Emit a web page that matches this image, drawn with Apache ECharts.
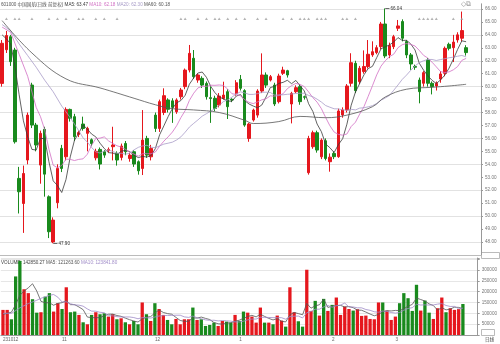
<!DOCTYPE html>
<html>
<head>
<meta charset="utf-8">
<script src="https://cdn.jsdelivr.net/npm/echarts/dist/echarts.min.js"></script>
<style>
  html, body { margin: 0; padding: 0; background: #fff; }
  #chart { width: 500px; height: 344px; }
</style>
</head>
<body>
<div id="chart"></div>
<script>
// Daily OHLC, volume and overlays
const stockTitle = '601000 中国国航(日线 前复权)';
const tickLabels = {0: '231012', 14: '11', 36: '12', 56: '1', 78: '2', 93: '3'};
const padSlots = 3; // empty slots kept on the right edge

const opens = [
  60.25, 62.85, 63.86, 62.83, 52.91, 50.97, 54.33, 60.12, 57.03, 53.94,
  56.70, 51.49, 48.00, 51.03, 55.23, 54.58, 58.24, 57.68, 56.30, 57.11,
  56.39, 55.90, 54.50, 55.15, 54.97, 55.05, 55.36, 54.84, 54.53, 55.61,
  54.45, 54.97, 54.20, 53.68, 56.00, 54.58, 57.80, 56.77, 58.00, 58.97,
  58.90, 58.06, 59.22, 60.00, 61.28, 62.19, 60.51, 60.64, 60.25, 59.15,
  59.10, 58.58, 59.09, 59.61, 59.02, 59.48, 60.56, 59.69, 56.00, 57.42,
  57.80, 59.66, 60.90, 60.51, 60.12, 58.84, 61.03, 61.23, 58.66, 59.61,
  60.00, 59.22, 53.35, 55.36, 56.44, 54.58, 55.82, 54.20, 54.84, 54.59,
  57.81, 58.20, 60.26, 61.80, 60.39, 61.16, 61.55, 62.45, 62.63, 63.09,
  64.84, 62.45, 63.09, 64.51, 65.03, 63.48, 62.45, 61.55, 60.51, 60.26,
  62.06, 60.26, 60.05, 60.59, 61.03, 63.27, 63.01, 63.61, 63.74, 63.01
];
const closes = [
  63.35, 63.95, 61.93, 55.74, 51.88, 53.29, 57.80, 57.03, 55.49, 56.39,
  53.24, 48.79, 49.69, 53.68, 53.68, 58.24, 57.55, 56.13, 56.45, 56.77,
  56.77, 55.60, 55.00, 54.02, 54.71, 55.15, 55.49, 54.33, 55.41, 54.97,
  54.71, 54.02, 53.50, 55.87, 54.71, 55.23, 56.77, 58.84, 59.30, 58.25,
  58.40, 58.97, 59.74, 61.28, 62.57, 60.77, 60.90, 60.12, 59.22, 59.08,
  58.32, 59.27, 59.35, 58.45, 58.97, 60.30, 59.87, 57.03, 57.11, 58.19,
  59.66, 60.90, 60.12, 60.77, 58.66, 60.82, 61.28, 60.90, 59.48, 59.92,
  58.84, 59.18, 56.00, 56.44, 55.10, 55.87, 54.45, 54.55, 54.59, 58.12,
  58.20, 60.05, 61.85, 59.69, 61.42, 61.55, 62.50, 62.70, 63.01, 64.84,
  62.37, 63.17, 63.86, 64.69, 63.74, 62.45, 61.75, 61.50, 59.61, 61.08,
  60.26, 60.00, 60.26, 60.98, 62.96, 62.96, 63.44, 64.00, 64.33, 62.63
];
const highs = [
  63.60, 64.30, 64.00, 63.00, 53.80, 53.90, 58.00, 60.30, 57.20, 56.60,
  56.90, 51.60, 49.90, 54.00, 55.50, 58.40, 58.30, 57.90, 56.60, 57.68,
  56.90, 56.00, 55.20, 55.30, 55.10, 55.30, 56.90, 55.00, 55.60, 55.80,
  54.90, 55.10, 54.30, 58.19, 56.20, 55.50, 58.00, 59.00, 59.87, 59.10,
  59.10, 59.10, 59.90, 61.40, 63.22, 62.83, 61.00, 60.80, 60.40, 60.00,
  59.30, 59.50, 60.38, 59.80, 59.10, 60.50, 60.90, 59.80, 57.20, 58.30,
  59.80, 62.57, 61.10, 60.90, 60.30, 61.00, 61.54, 61.30, 59.60, 60.10,
  60.20, 59.30, 56.20, 56.60, 56.60, 56.00, 56.00, 54.84, 55.00, 58.30,
  58.40, 60.20, 62.58, 62.00, 61.60, 62.80, 63.60, 63.50, 63.20, 65.00,
  66.04, 63.40, 64.00, 65.15, 65.20, 63.60, 62.60, 61.70, 60.70, 61.20,
  62.20, 60.40, 60.40, 61.20, 63.10, 63.40, 64.00, 64.20, 65.80, 63.20
];
const lows = [
  60.00, 62.60, 61.60, 55.60, 50.20, 48.70, 54.00, 56.80, 55.00, 52.50,
  51.50, 48.30, 47.90, 50.60, 53.40, 54.30, 57.30, 55.80, 56.10, 56.60,
  55.00, 55.40, 54.30, 53.60, 54.50, 54.90, 54.30, 53.90, 54.30, 54.70,
  54.20, 53.80, 53.20, 53.17, 54.50, 54.30, 56.50, 56.50, 57.80, 58.00,
  57.20, 57.90, 59.00, 59.80, 61.10, 60.60, 60.30, 59.90, 59.00, 57.20,
  58.10, 58.40, 59.00, 57.50, 58.80, 59.30, 59.70, 56.90, 55.74, 57.30,
  57.60, 59.50, 59.90, 60.40, 58.50, 58.70, 60.90, 60.70, 57.16, 59.50,
  58.60, 59.00, 53.20, 55.20, 54.90, 54.40, 54.30, 53.43, 54.40, 54.50,
  57.60, 58.00, 60.00, 59.50, 60.20, 61.00, 61.40, 62.30, 62.50, 62.90,
  62.20, 62.20, 62.90, 64.30, 63.50, 62.20, 61.30, 61.30, 58.71, 60.00,
  60.00, 59.40, 59.70, 60.30, 60.80, 62.80, 61.90, 63.40, 63.50, 62.40
];
const volumes = [
  115700, 115700, 72500, 270000, 342000, 211000, 193000, 165000, 103000, 105000,
  177000, 193000, 108000, 146600, 120000, 220000, 105000, 108000, 92600, 58600,
  49400, 92600, 105000, 95700, 100000, 84900, 95700, 72500, 77000, 58600,
  49400, 64800, 49400, 150000, 95700, 64800, 146600, 120000, 92600, 69400,
  49400, 74000, 49400, 72500, 72500, 126500, 69400, 72500, 41700, 46300,
  57100, 41700, 64800, 61700, 57100, 92600, 64800, 108000, 103000, 84900,
  57100, 126500, 57100, 57100, 49400, 89500, 66300, 38600, 220000, 105000,
  63300, 38600, 300900, 111000, 157400, 89500, 166600, 111000, 138900, 172800,
  92600, 131000, 120000, 112600, 118800, 88000, 89500, 74000, 72500, 150000,
  150000, 112600, 69400, 84900, 146600, 193000, 169700, 111000, 231500, 112600,
  158900, 103000, 74000, 123400, 172800, 105000, 123400, 115700, 119367.73, 142850.27
];

// Moving-average values at the left edge, where the window reaches before the first bar
const ma5Lead = {0: 64.0, 1: 63.7, 2: 63.3, 3: 61.6};
const ma10Lead = {0: 64.6, 2: 64.2, 4: 62.5, 6: 60.8, 8: 58.4};
const ma20Lead = {0: 64.8, 2: 64.3, 4: 63.3, 6: 62.4, 8: 61.5, 10: 60.5, 12: 59.6, 14: 58.5, 16: 57.6, 18: 56.6};
const ma60Points = {0: 65.1, 7: 62.6, 15: 60.6, 23: 59.9, 31: 59.1, 36: 58.6, 40: 58.3, 45: 58.2, 51: 58.0,
  57: 57.4, 59: 57.15, 65: 57.3, 70: 57.7, 76: 57.6, 81: 57.8, 87: 58.45, 90: 59.2, 95: 59.8, 101: 59.95,
  105: 60.05, 109: 60.18};
const vma5Lead = {0: 95000, 1: 100000, 2: 105000, 3: 140000};
const vma10Lead = {0: 100000, 2: 100000, 4: 125000, 6: 145000, 8: 160000};

// Event flags along the top edge
const eventBars = [1, 3, 4, 7, 11, 13, 15, 18, 19, 22, 24, 27, 42, 43, 46, 48, 50, 51, 53, 55, 57, 60, 62,
  66, 68, 70, 71, 72, 74, 75, 76, 80, 81, 83, 98, 99, 100, 101, 102, 106, 108];
const eventLevel = 65.25;

const RED = '#e5171d';
const GREEN = '#198a1d';
const FS = 4.6;
const FONT = '"Liberation Sans", "Noto Sans CJK SC", sans-serif';

const n = closes.length;
const slots = [];
for (let i = 0; i < n + padSlots; i++) slots.push(String(i));

const ohlc = closes.map((c, i) => [opens[i], c, lows[i], highs[i]]);

function movingAverage(vals, len, lead) {
  return vals.map((_, i) => {
    if (i < len - 1) return lead[i] !== undefined ? lead[i] : null;
    let s = 0;
    for (let k = i - len + 1; k <= i; k++) s += vals[k];
    return +(s / len).toFixed(2);
  });
}
function sparse(points) {
  return closes.map((_, i) => points[i] !== undefined ? points[i] : null);
}

const ma5 = movingAverage(closes, 5, ma5Lead);
const ma10 = movingAverage(closes, 10, ma10Lead);
const ma20 = movingAverage(closes, 20, ma20Lead);
const ma60 = sparse(ma60Points);
const vma5 = movingAverage(volumes, 5, vma5Lead);
const vma10 = movingAverage(volumes, 10, vma10Lead);

let hiIdx = 0, loIdx = 0;
highs.forEach((h, i) => { if (h > highs[hiIdx]) hiIdx = i; });
lows.forEach((l, i) => { if (l < lows[loIdx]) loIdx = i; });

const MA_COLORS = {ma5: '#3a3a3a', ma10: '#d26fc4', ma20: '#a89cc8', ma60: '#555555'};

function line(name, data, color, xi, yi, smooth) {
  return {
    name, type: 'line', data, xAxisIndex: xi, yAxisIndex: yi,
    showSymbol: false, connectNulls: true, smooth: smooth || false,
    lineStyle: {color, width: 0.8}, itemStyle: {color}, silent: true, z: 3
  };
}

const fmt = v => (v == null ? '' : v.toFixed(2));

const chart = echarts.init(document.getElementById('chart'), null, {renderer: 'canvas'});
chart.setOption({
  animation: false,
  backgroundColor: '#ffffff',
  textStyle: {fontFamily: FONT},
  grid: [
    {left: 0, right: 19, top: 3.8, height: 251.1},
    {left: 0, right: 19, top: 258, height: 77}
  ],
  xAxis: [
    {
      type: 'category', gridIndex: 0, data: slots, boundaryGap: true,
      axisLine: {show: true, lineStyle: {color: '#bbbbbb', width: 1}},
      axisTick: {show: false}, axisLabel: {show: false}, splitLine: {show: false}
    },
    {
      type: 'category', gridIndex: 1, data: slots, boundaryGap: true,
      axisLine: {show: true, lineStyle: {color: '#999999', width: 1}},
      axisTick: {show: false},
      axisLabel: {
        show: true, interval: 0, fontSize: FS, color: '#666', align: 'left', margin: 2,
        fontFamily: FONT, formatter: (v, i) => tickLabels[i] || ''
      },
      splitLine: {show: false}
    }
  ],
  yAxis: [
    {
      type: 'value', gridIndex: 0, position: 'right', min: 47, max: 66.4, interval: 1,
      axisLine: {show: true, lineStyle: {color: '#999999', width: 1}},
      axisTick: {show: true, length: 2, lineStyle: {color: '#999999'}},
      axisLabel: {fontSize: FS, color: '#777', margin: 4, showMinLabel: false, showMaxLabel: false,
        fontFamily: FONT, formatter: v => v.toFixed(2)},
      splitLine: {show: true, lineStyle: {color: ['rgba(0,0,0,0)', '#e2e2e2'], width: 1}}
    },
    {
      type: 'value', gridIndex: 1, position: 'right', min: 0, max: 355000, interval: 50000,
      axisLine: {show: true, lineStyle: {color: '#999999', width: 1}},
      axisTick: {show: true, length: 2, lineStyle: {color: '#999999'}},
      axisLabel: {fontSize: FS, color: '#777', margin: 4, fontFamily: FONT,
        formatter: v => (v > 0 && v <= 300000 ? String(v) : '')},
      splitLine: {show: true, lineStyle: {color: '#e6e6e6', width: 1}}
    }
  ],
  series: [
    {
      name: 'K', type: 'candlestick', data: ohlc, xAxisIndex: 0, yAxisIndex: 0,
      barWidth: '70%',
      itemStyle: {color: RED, color0: GREEN, borderColor: RED, borderColor0: GREEN, borderWidth: 1},
      markLine: {
        silent: true, symbol: 'none',
        lineStyle: {color: '#444', width: 0.8, type: 'solid'},
        label: {show: true, position: 'end', fontSize: FS, color: '#333', distance: 1, fontFamily: FONT},
        data: [
          [{coord: [hiIdx, highs[hiIdx]]}, {coord: [hiIdx + 1, highs[hiIdx]], label: {formatter: fmt(highs[hiIdx])}}],
          [{coord: [loIdx, lows[loIdx]]}, {coord: [loIdx + 1, lows[loIdx]], label: {formatter: fmt(lows[loIdx])}}]
        ]
      },
      z: 2
    },
    line('MA5', ma5, MA_COLORS.ma5, 0, 0),
    line('MA10', ma10, MA_COLORS.ma10, 0, 0),
    line('MA20', ma20, MA_COLORS.ma20, 0, 0),
    line('MA60', ma60, MA_COLORS.ma60, 0, 0, 0.4),
    {
      name: 'events', type: 'scatter', xAxisIndex: 0, yAxisIndex: 0,
      data: eventBars.map(i => [i, eventLevel]),
      symbol: 'triangle', symbolSize: [3, 2.5], itemStyle: {color: '#a0a0a0'}, silent: true
    },
    {
      name: 'VOLUME', type: 'bar', xAxisIndex: 1, yAxisIndex: 1, barWidth: '78%',
      data: volumes.map((v, i) => ({value: v, itemStyle: {color: closes[i] >= opens[i] ? RED : GREEN}})),
      z: 2
    },
    line('VMA5', vma5, '#555555', 1, 1),
    line('VMA10', vma10, '#a08cc8', 1, 1)
  ],
  graphic: [
    {
      type: 'text', left: 1, top: 2,
      style: {
        text: '{t|' + stockTitle + '} {a|MA5: ' + fmt(ma5[n - 1]) + '} {b|MA10: ' + fmt(ma10[n - 1]) +
              '} {c|MA20: ' + fmt(ma20[n - 1]) + '} {d|MA60: ' + fmt(ma60[n - 1]) + '}',
        font: FS + 'px ' + FONT,
        rich: {
          t: {fill: '#555', fontSize: FS, fontFamily: FONT},
          a: {fill: MA_COLORS.ma5, fontSize: FS, fontFamily: FONT},
          b: {fill: MA_COLORS.ma10, fontSize: FS, fontFamily: FONT},
          c: {fill: MA_COLORS.ma20, fontSize: FS, fontFamily: FONT},
          d: {fill: MA_COLORS.ma60, fontSize: FS, fontFamily: FONT}
        }
      }
    },
    {
      type: 'text', left: 1, top: 260,
      style: {
        text: '{t|VOLUME: ' + fmt(volumes[n - 1]) + '} {a|MA5: ' + fmt(vma5[n - 1]) + '} {b|MA10: ' + fmt(vma10[n - 1]) + '}',
        font: FS + 'px ' + FONT,
        rich: {
          t: {fill: '#444', fontSize: FS, fontFamily: FONT},
          a: {fill: '#555', fontSize: FS, fontFamily: FONT},
          b: {fill: '#a08cc8', fontSize: FS, fontFamily: FONT}
        }
      }
    },
    {
      type: 'text', left: 461, top: 1,
      style: {text: '◇⧉', font: '7px "DejaVu Sans", sans-serif', fill: '#999'}
    },
    {
      type: 'rect', shape: {x: 481.5, y: 252.5, width: 18, height: 6},
      style: {fill: '#fff', stroke: '#aaa', lineWidth: 0.8}
    },
    {
      type: 'rect', shape: {x: 481.5, y: 329.5, width: 13, height: 6},
      style: {fill: '#fff', stroke: '#aaa', lineWidth: 0.8}
    },
    {
      type: 'text', left: 485, top: 337,
      style: {text: '日线', font: FS + 'px "Noto Sans CJK SC", sans-serif', fill: '#444'}
    }
  ]
});
</script>
</body>
</html>
